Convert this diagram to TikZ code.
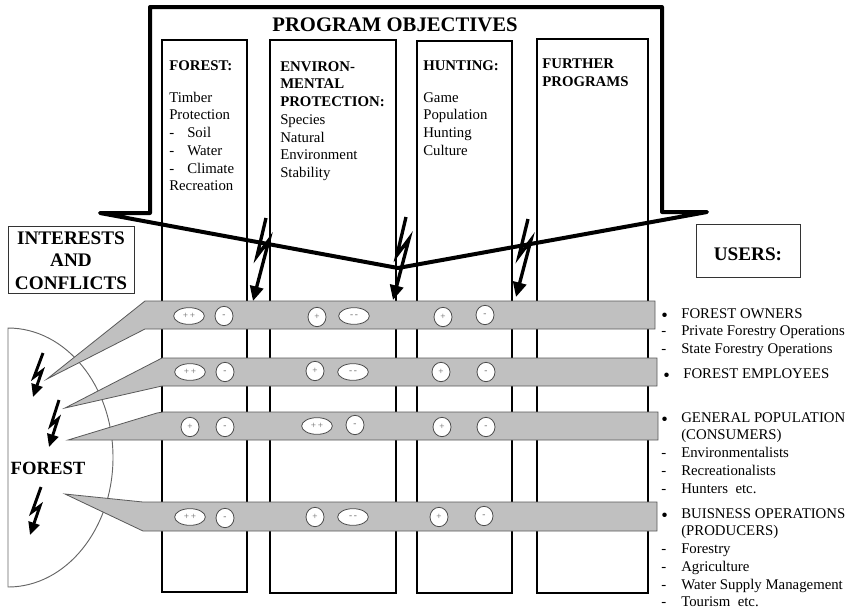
\documentclass[tikz,border=0pt]{standalone}
\usepackage{fontspec}
\setmainfont{Liberation Serif}
\usetikzlibrary{shapes.geometric,arrows.meta}
\definecolor{bandgray}{RGB}{192,192,192}
\newcommand{\blt}{\makebox[15pt][l]{\raisebox{-2.2pt}{\fontsize{14}{14}\selectfont•}}}
\newcommand{\dsh}{\makebox[15pt][l]{-}}
\begin{document}
\begin{tikzpicture}[x=0.75pt,y=-0.75pt,
  colbox/.style={draw=black,line width=1.5pt},
  band/.style={fill=bandgray,draw=black!65,line width=0.6pt},
  sign/.style={ellipse,draw=black!70,fill=white,line width=0.6pt,inner sep=0pt,
    font=\fontsize{7}{7}\selectfont,text=black!60},
  wide/.style={sign,minimum width=23pt,minimum height=12.5pt},
  narrow/.style={sign,minimum width=13.5pt,minimum height=14.5pt},
  bolt/.style={line width=2.5pt,line join=miter,-{Triangle[length=11pt,width=10pt]}},
  smallbolt/.style={line width=2.2pt,line join=miter,-{Triangle[length=9.5pt,width=8.5pt]}},
  body/.style={anchor=north west,inner sep=0pt,align=left,font=\fontsize{11.1}{13.3}\selectfont},
  heading/.style={inner sep=0pt,font=\bfseries\fontsize{14.4}{16.9}\selectfont,align=center},
  framebox/.style={draw=black!80,line width=0.75pt,inner sep=0pt}
]
\useasboundingbox (0,0) rectangle (853,612);

% forest half-disc
\draw[black!60,line width=0.7pt] (8,328) arc[start angle=-90,end angle=90,x radius=105,y radius=129.5] -- cycle;

% program columns
\draw[colbox] (162,40) rectangle (247,592);
\draw[colbox] (270,40) rectangle (396,593);
\draw[colbox] (417,41) rectangle (512,593);
\draw[colbox] (537,39) rectangle (648,593);

% user bands pointing into the forest
\draw[band] (47,379) -- (145,301) -- (655,301) -- (655,329) -- (145,329) -- cycle;
\draw[band] (65,408) -- (162,358) -- (657,358) -- (657,386) -- (162,386) -- cycle;
\draw[band] (68,440) -- (157,413) -- (163,412) -- (658,412) -- (658,440) -- cycle;
\draw[band] (65,494) -- (143,502) -- (657,502) -- (657,531) -- (143,531) -- cycle;

% ratings per band
\node[wide]   (a1) at (189,316) {+\,+};
\node[narrow] (a2) at (224,316) {-};
\node[narrow] (a3) at (317,317) {+};
\node[wide]   (a4) at (354,316) {-\,-};
\node[narrow] (a5) at (443,317) {+};
\node[narrow] (a6) at (485,315) {-};

\node[wide]   (b1) at (190,372) {+\,+};
\node[narrow] (b2) at (225,372) {-};
\node[narrow] (b3) at (315,371) {+};
\node[wide]   (b4) at (353,372) {-\,-};
\node[narrow] (b5) at (441,372) {+};
\node[narrow] (b6) at (486,372) {-};

\node[narrow] (c1) at (190,427) {+};
\node[narrow] (c2) at (225,427) {-};
\node[wide]   (c3) at (317,426) {+\,+};
\node[narrow] (c4) at (355,425) {-};
\node[narrow] (c5) at (442,427) {+};
\node[narrow] (c6) at (486,427) {-};

\node[wide]   (d1) at (190,517) {+\,+};
\node[narrow] (d2) at (225,518) {-};
\node[narrow] (d3) at (315,517) {+};
\node[wide]   (d4) at (353,517) {-\,-};
\node[narrow] (d5) at (439,517) {+};
\node[narrow] (d6) at (484,516) {-};

% program objectives frame
\draw[line width=3pt,line join=round,line cap=round]
  (100,213) -- (150,213) -- (150,7) -- (662,7) -- (662,212) -- (707,212) -- (398,268) -- cycle;

% conflict bolts
\draw[bolt] (266,218) -- ++(-9,38) -- ++(12,-16) -- ++(-16,61);
\draw[bolt] (406,217) -- ++(-9,38) -- ++(12,-16) -- ++(-16,61);
\draw[bolt] (528,219) -- ++(-9,37) -- ++(12,-16) -- ++(-15,57);
\draw[smallbolt] (43,353) -- ++(-9,24) -- ++(8,-6) -- ++(-9,26);
\draw[smallbolt] (59,400) -- ++(-8,25) -- ++(7,-6) -- ++(-9,28);
\draw[smallbolt] (41,487) -- ++(-9,25) -- ++(8,-6) -- ++(-10,29);

% titles and boxes
\node[font=\bfseries\fontsize{15.5}{18}\selectfont,inner sep=0pt] (title) at (395,25) {PROGRAM OBJECTIVES};
\node[framebox,minimum width=94.5pt,minimum height=50.25pt] (conflbox) at (71,259.5) {};
\node[heading] (confl) at (71,260.5) {INTERESTS\\AND\\CONFLICTS};
\node[framebox,minimum width=78pt,minimum height=39.75pt] (usersbox) at (748,250.5) {};
\node[heading] (users) at (748,254) {USERS:};
\node[heading,font=\bfseries\fontsize{14}{16}\selectfont] (forest) at (48,468) {FOREST};

% column contents
\node[body] (col1) at (169,60) {\textbf{FOREST:}\\[10.7pt]
  Timber\\ Protection\\ \makebox[13.5pt][l]{-}Soil\\ \makebox[13.5pt][l]{-}Water\\
  \makebox[13.5pt][l]{-}Climate\\ Recreation};
\node[body] (col2) at (280,61) {\textbf{ENVIRON-}\\ \textbf{MENTAL}\\ \textbf{PROTECTION:}\\
  Species\\ Natural\\ Environment\\ Stability};
\node[body] (col3) at (423,60) {\textbf{HUNTING:}\\[10.7pt]
  Game\\ Population\\ Hunting\\ Culture};
\node[body] (col4) at (542,59) {\textbf{FURTHER}\\ \textbf{PROGRAMS}};

% user groups
\node[body] (u1) at (661,308) {\blt FOREST OWNERS\\
  \dsh Private Forestry Operations\\
  \dsh State Forestry Operations};
\node[body] (u2) at (663,368) {\blt FOREST EMPLOYEES};
\node[body] (u3) at (661,412) {\blt GENERAL POPULATION\\
  \makebox[15pt][l]{}(CONSUMERS)\\
  \dsh Environmentalists\\
  \dsh Recreationalists\\
  \dsh Hunters\ \ etc.};
\node[body] (u4) at (661,508) {\blt BUISNESS OPERATIONS\\
  \makebox[15pt][l]{}(PRODUCERS)\\
  \dsh Forestry\\
  \dsh Agriculture\\
  \dsh Water Supply Management\\
  \dsh Tourism\ \ etc.};
\end{tikzpicture}
\end{document}
